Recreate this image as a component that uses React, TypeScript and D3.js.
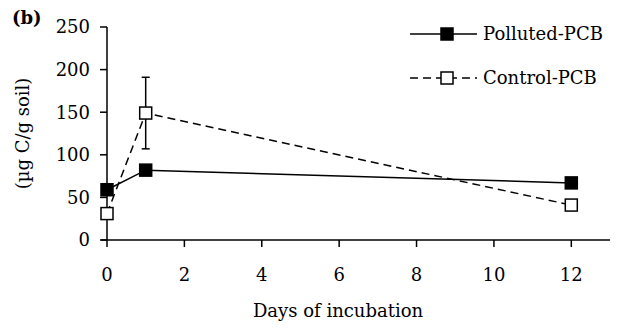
import * as d3 from "d3";

const days = [0, 1, 12];
const pollutedValues = [59, 82, 67];
const pollutedErrors = [4, 3, 3];
const controlValues = [31, 149, 41];
const controlErrors = [4, 42, 3];
const xTicks = [0, 2, 4, 6, 8, 10, 12];
const yTicks = [0, 50, 100, 150, 200, 250];
const seriesNames = ["Polluted-PCB", "Control-PCB"];

const W = 621;
const H = 332;
const font = "'DejaVu Serif', 'Liberation Serif', serif";

export default function App() {
  const x = d3.scaleLinear().domain([0, 13]).range([107, 610]);
  const y = d3.scaleLinear().domain([0, 250]).range([240, 27]);
  const line = d3
    .line<number>()
    .x((_, i) => x(days[i]))
    .y((d) => y(d));

  const series = [
    { name: seriesNames[0], values: pollutedValues, errors: pollutedErrors, fill: "#000", dash: undefined },
    { name: seriesNames[1], values: controlValues, errors: controlErrors, fill: "#fff", dash: "8,5" },
  ];
  const ms = 12;

  return (
    <svg width={W} height={H} style={{ position: "absolute", left: 0, top: 0 }} fontFamily={font}>
      <rect width={W} height={H} fill="#fff" />
      <text x={12} y={24} fontSize={18} fontWeight="bold">(b)</text>
      <text
        transform={`translate(29,${y(125)}) rotate(-90)`}
        textAnchor="middle"
        fontSize={18}
      >
        (µg C/g soil)
      </text>

      {/* axes */}
      <line x1={x(0)} x2={x(0)} y1={y(250)} y2={y(0)} stroke="#000" strokeWidth={1.5} />
      <line x1={x(0) - 6} x2={x(13)} y1={y(0)} y2={y(0)} stroke="#000" strokeWidth={1.5} />
      {yTicks.map((t) => (
        <g key={t}>
          <line x1={x(0) - 7} x2={x(0)} y1={y(t)} y2={y(t)} stroke="#000" strokeWidth={1.5} />
          <text x={x(0) - 17} y={y(t)} dy="0.35em" textAnchor="end" fontSize={18}>{t}</text>
        </g>
      ))}
      {xTicks.map((t) => (
        <g key={t}>
          <line x1={x(t)} x2={x(t)} y1={y(0)} y2={y(0) + 7} stroke="#000" strokeWidth={1.5} />
          <text x={x(t)} y={y(0) + 41} textAnchor="middle" fontSize={18}>{t}</text>
        </g>
      ))}
      <text x={338} y={317} textAnchor="middle" fontSize={18}>Days of incubation</text>

      {/* series */}
      {series.map((s) => (
        <g key={s.name}>
          <path d={line(s.values) || ""} fill="none" stroke="#000" strokeWidth={1.5} strokeDasharray={s.dash} />
          {s.values.map((v, i) => (
            <g key={i}>
              <line x1={x(days[i])} x2={x(days[i])} y1={y(v + s.errors[i])} y2={y(v - s.errors[i])} stroke="#000" strokeWidth={1.5} />
              <line x1={x(days[i]) - 4} x2={x(days[i]) + 4} y1={y(v + s.errors[i])} y2={y(v + s.errors[i])} stroke="#000" strokeWidth={1.5} />
              <line x1={x(days[i]) - 4} x2={x(days[i]) + 4} y1={y(v - s.errors[i])} y2={y(v - s.errors[i])} stroke="#000" strokeWidth={1.5} />
              <rect x={x(days[i]) - ms / 2} y={y(v) - ms / 2} width={ms} height={ms} fill={s.fill} stroke="#000" strokeWidth={1.5} />
            </g>
          ))}
        </g>
      ))}

      {/* legend */}
      {series.map((s, i) => {
        const ly = 34 + i * 44;
        return (
          <g key={s.name}>
            <line x1={410} x2={477} y1={ly} y2={ly} stroke="#000" strokeWidth={1.5} strokeDasharray={s.dash} />
            <rect x={447 - ms / 2} y={ly - ms / 2} width={ms} height={ms} fill={s.fill} stroke="#000" strokeWidth={1.5} />
            <text x={483} y={ly} dy="0.35em" fontSize={18}>{s.name}</text>
          </g>
        );
      })}
    </svg>
  );
}
